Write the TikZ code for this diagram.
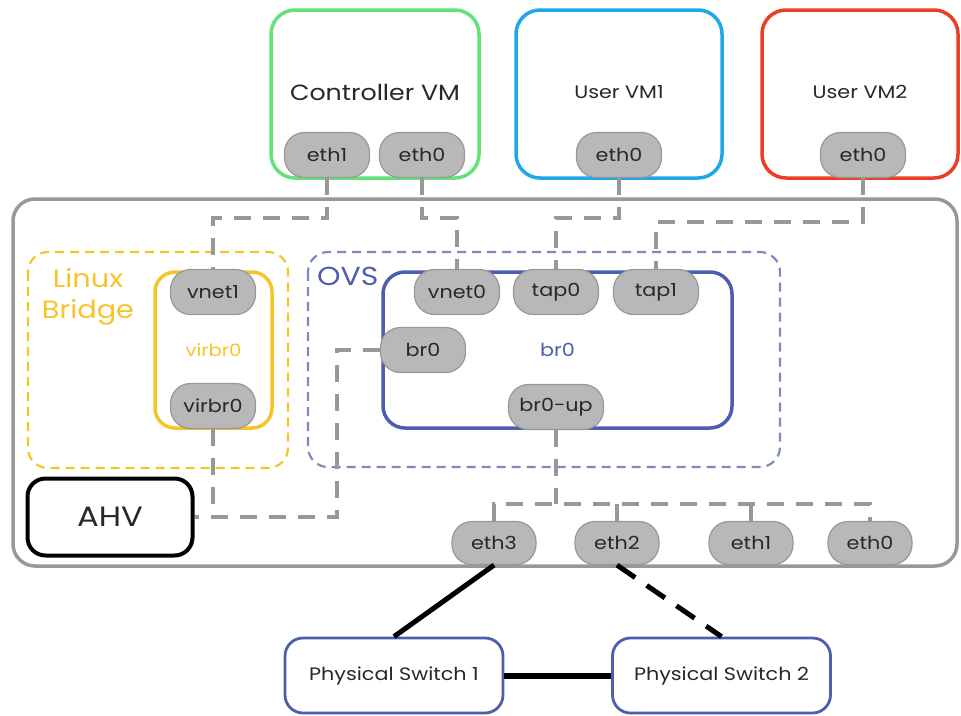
\documentclass[tikz,border=0pt]{standalone}
\usepackage{fontspec}
\setmainfont{Poppins}[FakeStretch=1.15]
\usepackage{tikz}
\usetikzlibrary{calc}

\definecolor{cvmgreen}{RGB}{98,226,120}
\definecolor{vmblue}{RGB}{30,168,230}
\definecolor{vmred}{RGB}{236,62,38}
\definecolor{lbyellow}{RGB}{246,196,40}
\definecolor{ovsblue}{RGB}{78,94,172}
\definecolor{ovsdash}{RGB}{125,138,192}
\definecolor{portgray}{RGB}{184,184,184}
\definecolor{linkgray}{RGB}{152,152,152}
\definecolor{txtgray}{RGB}{40,40,40}

\tikzset{
  port/.style={draw=linkgray, fill=portgray, line width=1.2pt, rounded corners=20pt,
    minimum width=85pt, minimum height=45pt, text=txtgray, font=\fontsize{18}{21}\selectfont},
  vmbox/.style={rounded corners=24pt, line width=3.5pt, fill=white, text=txtgray},
  link/.style={draw=linkgray, line width=4pt, dash pattern=on 17pt off 12pt},
  zone/.style={rounded corners=20pt, line width=2.2pt, dash pattern=on 9pt off 6pt},
  switchbox/.style={draw=ovsblue, rounded corners=18pt, line width=2.8pt, fill=white,
    minimum width=218pt, minimum height=75pt, text=txtgray, font=\fontsize{18}{21}\selectfont},
}

\begin{document}
\begin{tikzpicture}[x=1pt, y=-1pt]
 \useasboundingbox (0,0) rectangle (961,715);

 % host
 \draw [linkgray, line width=3.5pt, rounded corners=22pt] (13,199) rectangle (957,566);
 \coordinate (rowa) at (0,218);
 \coordinate (rowb) at (0,222);
 \coordinate (rowc) at (0,504);
 \coordinate (ahvbend) at (337,517);

 % dashed zones
 \draw [zone, lbyellow] (28,252) rectangle (288,468);
 \draw [zone, ovsdash] (308,252) rectangle (780,467);
 \node [anchor=base, text=lbyellow, font=\fontsize{25}{31}\selectfont] (lblinux) at (88,287) {Linux};
 \node [anchor=base, text=lbyellow, font=\fontsize{25}{31}\selectfont] (lbbridge) at (88,318) {Bridge};
 \node [anchor=base west, inner sep=0pt, text=ovsblue, font=\fontsize{26}{30}\selectfont] (ovslabel) at (317,285) {OVS};

 % VMs
 \node [vmbox, draw=cvmgreen, minimum width=208pt, minimum height=168pt, font=\fontsize{22}{26}\selectfont] (cvm) at (375,94) {\raisebox{4pt}{Controller VM}};
 \node [vmbox, draw=vmblue, minimum width=206pt, minimum height=168pt, font=\fontsize{18}{21}\selectfont] (vm1) at (619,94) {\raisebox{4pt}{User VM1}};
 \node [vmbox, draw=vmred, minimum width=196pt, minimum height=168pt, font=\fontsize{18}{21}\selectfont] (vm2) at (860,94) {\raisebox{4pt}{User VM2}};

 % bridges
 \node [draw=lbyellow, rounded corners=20pt, line width=3.5pt, minimum width=117pt, minimum height=156pt,
   text=lbyellow, font=\fontsize{17}{20}\selectfont] (virbr) at (213.5,350) {virbr0};
 \node [draw=ovsblue, rounded corners=22pt, line width=3.5pt, minimum width=349pt, minimum height=156pt,
   text=ovsblue, font=\fontsize{18}{21}\selectfont] (br) at (557.5,350) {br0};

 \node [draw=black, rounded corners=18pt, line width=4pt, minimum width=165pt, minimum height=77pt,
   text=txtgray, font=\fontsize{28}{32}\selectfont] (ahv) at (110,517) {AHV};

 % ports
 \node [port] (ceth1) at (327,155) {eth1};
 \node [port] (ceth0) at (422,155) {eth0};
 \node [port] (v1eth0) at (619,155) {eth0};
 \node [port] (v2eth0) at (863,155) {eth0};

 \node [port] (vnet1) at (213,292) {vnet1};
 \node [port] (virbrp) at (213,406) {virbr0};
 \node [port] (vnet0) at (457,292) {vnet0};
 \node [port] (tap0) at (556,292) {tap0};
 \node [port] (tap1) at (656,292) {tap1};
 \node [port] (brp) at (423,350) {br0};
 \node [port, minimum width=95pt] (brup) at (556,407) {br0-up};

 \node [port, minimum width=84pt, minimum height=43pt] (heth3) at (494,543) {eth3};
 \node [port, minimum width=84pt, minimum height=43pt] (heth2) at (617,543) {eth2};
 \node [port, minimum width=84pt, minimum height=43pt] (heth1) at (751,543) {eth1};
 \node [port, minimum width=84pt, minimum height=43pt] (heth0) at (870,543) {eth0};

 % switches
 \node [switchbox] (ps1) at (394,675.5) {Physical Switch 1};
 \node [switchbox] (ps2) at (721.5,675.5) {Physical Switch 2};

 % links
 \draw [link] (ceth1.south) -- (ceth1.south |- rowa) -| (vnet1.north);
 \draw [link] (ceth0.south) -- (ceth0.south |- rowa) -| (vnet0.north);
 \draw [link] (v1eth0.south) -- (v1eth0.south |- rowa) -| (tap0.north);
 \draw [link] (v2eth0.south) -- (v2eth0.south |- rowb) -| (tap1.north);
 \draw [link] (brp.west) -| (ahvbend) -- (ahv.east);
 \draw [link] (virbrp.south) -- (virbrp.south |- ahvbend);
 \draw [link] (brup.south) -- (brup.south |- rowc);
 \draw [link] (heth3.north) -- (heth3.north |- rowc) -- (heth0.north |- rowc) -- (heth0.north);
 \foreach \p in {heth2, heth1}
   \draw [link] (\p.north) -- (\p.north |- rowc);

 \draw [line width=5pt] (heth3.south) -- (ps1.north);
 \draw [line width=5pt, dash pattern=on 22pt off 14pt] (heth2.south) -- (ps2.north);
 \draw [line width=6pt] (ps1.east) -- (ps2.west);
\end{tikzpicture}
\end{document}
